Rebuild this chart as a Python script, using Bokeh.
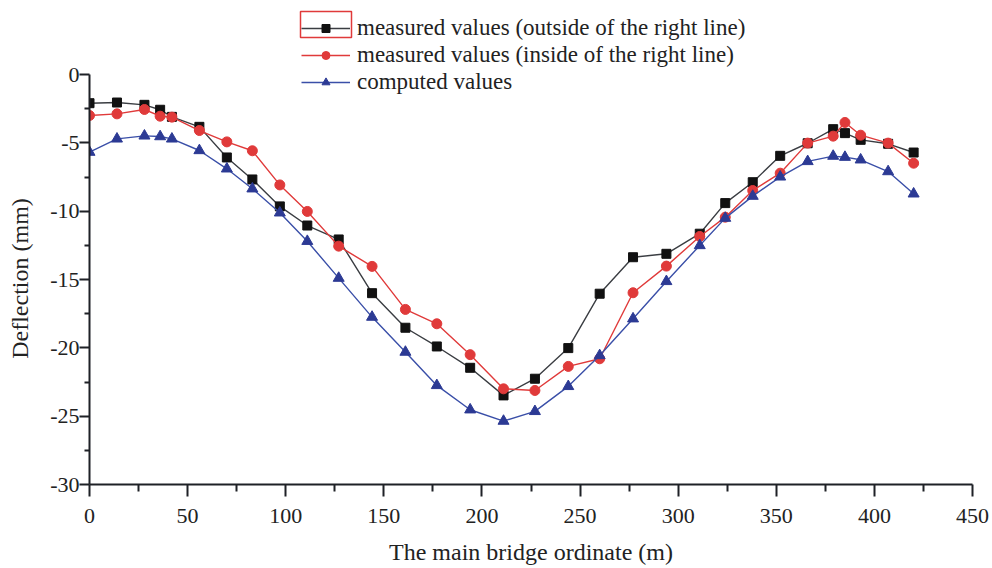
from bokeh.plotting import figure
from bokeh.models import (Legend, LegendItem, BoxAnnotation, Range1d, FixedTicker,
                          CustomJSTickFormatter)
from bokeh.embed import file_html
from bokeh.resources import INLINE

# ---- data ----
ordinate = [0, 14, 28, 36, 42, 56, 70, 83, 97, 111, 127, 144, 161, 177, 194, 211,
            227, 244, 260, 277, 294, 311, 324, 338, 352, 366, 379, 385, 393, 407, 420]
outside = [-2.1, -2.05, -2.22, -2.58, -3.1, -3.83, -6.07, -7.68, -9.65, -11.05, -12.07,
           -16.0, -18.53, -19.9, -21.46, -23.48, -22.26, -20.02, -16.04, -13.37, -13.12,
           -11.65, -9.41, -7.88, -5.95, -5.03, -4.0, -4.29, -4.78, -5.07, -5.71]
inside = [-3.0, -2.88, -2.56, -3.05, -3.12, -4.1, -4.93, -5.58, -8.08, -10.02, -12.56,
          -14.04, -17.19, -18.24, -20.5, -23.0, -23.12, -21.36, -20.8, -15.97, -14.02,
          -11.85, -10.44, -8.49, -7.22, -5.02, -4.51, -3.51, -4.44, -5.02, -6.49]
computed = [-5.68, -4.71, -4.49, -4.54, -4.71, -5.56, -6.9, -8.36, -10.12, -12.2, -14.9,
            -17.75, -20.31, -22.75, -24.53, -25.36, -24.65, -22.82, -20.56, -17.87, -15.14,
            -12.51, -10.51, -8.9, -7.49, -6.36, -5.97, -6.05, -6.24, -7.1, -8.73]
labels = ["measured values (outside of the right line)",
          "measured values (inside of the right line)",
          "computed values"]
x_ticks = [0, 50, 100, 150, 200, 250, 300, 350, 400, 450]
y_ticks = [0, -5, -10, -15, -20, -25, -30]

FONT = "Liberation Serif"
AX = "#1e2126"

# frame spans the whole height so the legend above y=0 is not clipped;
# the y axis itself is bounded to [-30, 0]
FRAME_BOTTOM = 484      # px from the top of the canvas
AXIS_PX = 410           # px taken by the 30 mm of the axis
Y_TOP = FRAME_BOTTOM * 30 / AXIS_PX - 30

p = figure(width=990, height=568, output_backend="svg", toolbar_location=None,
           x_range=Range1d(0, 450), y_range=Range1d(-30, Y_TOP),
           min_border_left=89, min_border_right=18, min_border_top=0, min_border_bottom=84)
p.outline_line_color = None
p.xgrid.visible = False
p.ygrid.visible = False
p.background_fill_color = "white"
p.border_fill_color = "white"

black_line = p.line(ordinate, outside, line_color="#3a3d42", line_width=1.4)
black_pts = p.scatter(ordinate, outside, marker="square", size=9, fill_color="#111111",
                      line_color="#111111")
red_line = p.line(ordinate, inside, line_color="#e03a3a", line_width=1.4)
red_pts = p.scatter(ordinate, inside, marker="circle", size=10, fill_color="#e03a3a",
                    line_color="#e03a3a")
blue_line = p.line(ordinate, computed, line_color="#3a4fa8", line_width=1.4)
blue_pts = p.scatter(ordinate, computed, marker="triangle", size=11, fill_color="#2c3a94",
                     line_color="#2c3a94")

fmt = CustomJSTickFormatter(code="return String(tick);")
for ax in (p.xaxis[0], p.yaxis[0]):
    ax.axis_line_color = AX
    ax.axis_line_width = 2
    ax.major_tick_line_color = AX
    ax.minor_tick_line_color = AX
    ax.major_tick_line_width = 2
    ax.minor_tick_line_width = 2
    ax.major_tick_in = 0
    ax.minor_tick_in = 0
    ax.formatter = fmt
    ax.major_label_text_font = FONT
    ax.major_label_text_font_size = "22px"
    ax.major_label_text_color = "#222222"
    ax.axis_label_text_font = FONT
    ax.axis_label_text_font_size = "24px"
    ax.axis_label_text_font_style = "normal"
    ax.axis_label_text_color = "#222222"

p.yaxis.bounds = (-30, 0)
p.xaxis.ticker = FixedTicker(ticks=x_ticks, minor_ticks=[25 + 50 * i for i in range(9)])
p.yaxis.ticker = FixedTicker(ticks=y_ticks, minor_ticks=[-2.5 - 5 * i for i in range(6)])
p.xaxis.major_tick_out = 12
p.xaxis.minor_tick_out = 7
p.yaxis.major_tick_out = 10
p.yaxis.minor_tick_out = 5
p.xaxis.major_label_standoff = 12
p.yaxis.major_label_standoff = 0
p.xaxis.axis_label = "The main bridge ordinate (m)"
# trailing no-break spaces centre the rotated title on the bounded [-30, 0] axis
p.yaxis.axis_label = "Deflection (mm)" + "\u00a0" * 12
p.xaxis.axis_label_standoff = 13
p.yaxis.axis_label_standoff = 14

legend = Legend(items=[
    LegendItem(label=labels[0], renderers=[black_line, black_pts]),
    LegendItem(label=labels[1], renderers=[red_line, red_pts]),
    LegendItem(label=labels[2], renderers=[blue_line, blue_pts]),
], location=(212, 389), padding=0, margin=0, spacing=1,
    glyph_width=49, glyph_height=20, label_height=20, label_standoff=7,
    label_text_font=FONT, label_text_font_size="23px", label_text_color="#222222",
    border_line_color=None, background_fill_alpha=0)
p.add_layout(legend, "center")

# red selection box around the first legend entry
p.add_layout(BoxAnnotation(left=211, right=262, bottom=447, top=473,
                           left_units="screen", right_units="screen",
                           bottom_units="screen", top_units="screen",
                           fill_alpha=0, line_color="#e03a3a", line_alpha=1.0,
                           line_width=1.5))

open("out.html", "w").write(file_html(p, INLINE))
